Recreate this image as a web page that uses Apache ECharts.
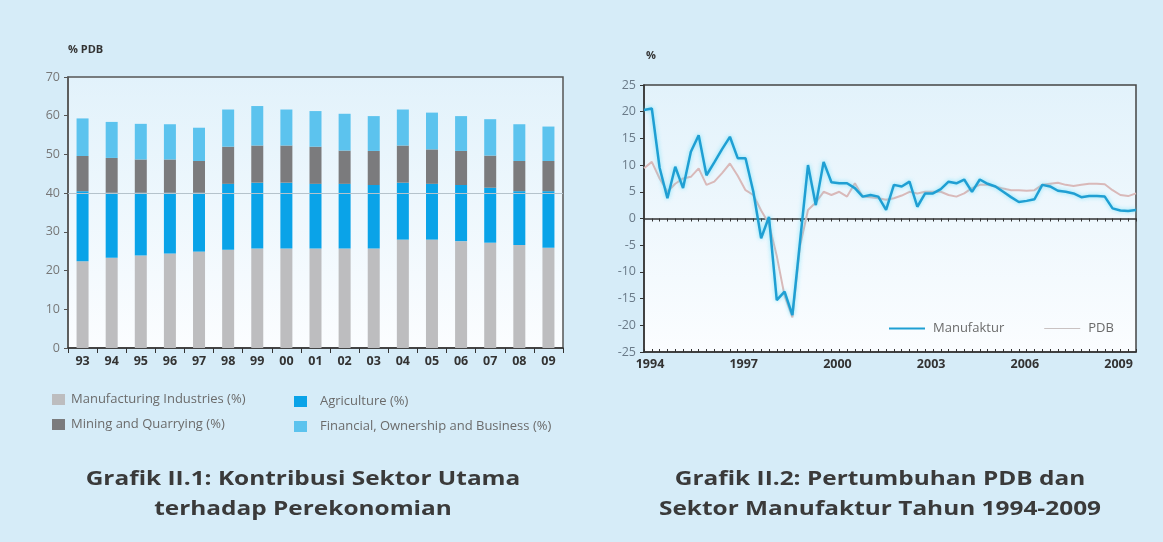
<!DOCTYPE html>
<html>
<head>
<meta charset="utf-8">
<script src="https://cdn.jsdelivr.net/npm/echarts@6/dist/echarts.min.js"></script>
<style>
  html, body { margin: 0; padding: 0; background: #d6ecf8; }
  #main { width: 1163px; height: 542px; }
</style>
</head>
<body>
<div id="main"></div>
<script>
// Grafik II.1 - stacked bars (% PDB)
let barYears = ['93', '94', '95', '96', '97', '98', '99', '00', '01', '02', '03', '04', '05', '06', '07', '08', '09']
let manufacturing = [22.4, 23.3, 23.9, 24.4, 24.9, 25.4, 25.7, 25.7, 25.7, 25.7, 25.7, 28.0, 28.0, 27.6, 27.2, 26.6, 25.9]
let agriculture = [18.1, 16.8, 16.2, 15.7, 15.2, 17.0, 17.0, 17.0, 16.7, 16.7, 16.4, 14.7, 14.4, 14.5, 14.2, 13.9, 14.6]
let mining = [9.1, 9.0, 8.6, 8.6, 8.2, 9.6, 9.6, 9.6, 9.6, 8.6, 8.8, 9.6, 8.9, 8.8, 8.3, 7.8, 7.8]
let financial = [9.7, 9.3, 9.2, 9.1, 8.6, 9.6, 10.2, 9.3, 9.2, 9.5, 9.0, 9.3, 9.5, 9.0, 9.4, 9.5, 8.9]

// Grafik II.2 - quarterly growth 1994Q1 - 2009Q4 (%)
let startYear = 1994
let endYear = 2009
let yearTicks = ['1994', '1997', '2000', '2003', '2006', '2009']
let manufaktur = [
  20.3, 20.6, 9.5, 3.8, 9.7, 5.7, 12.5, 15.6,
  8.1, 10.5, 13.0, 15.3, 11.3, 11.3, 5.0, -3.7,
  0.3, -15.3, -13.7, -18.1, -4.0, 10.0, 2.5, 10.6,
  6.8, 6.6, 6.6, 5.7, 4.1, 4.4, 4.1, 1.6,
  6.3, 6.0, 6.9, 2.2, 4.7, 4.7, 5.5, 6.9,
  6.6, 7.3, 5.0, 7.3, 6.5, 6.0, 5.0, 4.0,
  3.1, 3.3, 3.6, 6.3, 6.0, 5.2, 5.0, 4.7,
  4.0, 4.2, 4.2, 4.1, 1.9, 1.5, 1.4, 1.6
]
let pdb = [
  9.4, 10.6, 7.5, 5.0, 6.5, 7.5, 7.8, 9.4,
  6.3, 6.9, 8.5, 10.3, 8.0, 5.3, 4.4, 1.5,
  -1.0, -7.0, -14.5, -18.5, -5.0, 1.6, 3.0, 5.0,
  4.4, 5.0, 4.1, 6.6, 4.1, 4.0, 3.8, 3.5,
  3.8, 4.3, 5.0, 4.7, 5.0, 5.0, 5.0, 4.4,
  4.1, 4.7, 5.7, 6.3, 6.3, 6.0, 5.6, 5.3,
  5.3, 5.2, 5.3, 6.3, 6.5, 6.7, 6.3, 6.1,
  6.3, 6.5, 6.5, 6.4, 5.3, 4.4, 4.2, 4.7
]

let quarters = []
for (let y = startYear; y <= endYear; y++) {
  for (let q = 1; q <= 4; q++) quarters.push(y + 'Q' + q)
}

let plotBg = {
  type: 'linear', x: 0, y: 0, x2: 0, y2: 1,
  colorStops: [{ offset: 0, color: '#e2f2fb' }, { offset: 1, color: '#fbfdff' }]
}
let fontFamily = '"Open Sans", "Noto Sans", sans-serif'

let chart = echarts.init(document.getElementById('main'))

let barSeries = function (name, data, color) {
  return {
    name: name,
    type: 'bar',
    stack: 'total',
    xAxisIndex: 0,
    yAxisIndex: 0,
    barWidth: 12,
    itemStyle: { color: color },
    data: data
  }
}

let option = {
  backgroundColor: '#d6ecf8',
  textStyle: { fontFamily: fontFamily },
  animation: false,
  grid: [
    {
      left: 68, right: 600, top: 77, bottom: 194,
      show: true, backgroundColor: plotBg, borderColor: '#555', borderWidth: 1.5
    },
    {
      left: 644, right: 27, top: 85, bottom: 190,
      show: true, backgroundColor: plotBg, borderColor: '#444', borderWidth: 1.5
    }
  ],
  legend: [
    {
      orient: 'vertical', left: 47, top: 388, itemGap: 12,
      itemWidth: 13, itemHeight: 11, icon: 'rect',
      textStyle: { color: '#6b6b6b', fontSize: 13, padding: [0, 0, 0, 1] },
      data: ['Manufacturing Industries (%)', 'Mining and Quarrying (%)']
    },
    {
      orient: 'vertical', left: 289, top: 390, itemGap: 12,
      itemWidth: 13, itemHeight: 11, icon: 'rect',
      textStyle: { color: '#6b6b6b', fontSize: 13, padding: [0, 0, 0, 8] },
      data: ['Agriculture (%)', 'Financial, Ownership and Business (%)']
    },
    {
      orient: 'horizontal', left: 884, top: 317, itemGap: 40,
      itemWidth: 36, itemHeight: 10,
      textStyle: { color: '#6b6b6b', fontSize: 13, padding: [0, 0, 0, 3] },
      data: [
        { name: 'Manufaktur', icon: 'path://M0,4 L36,4 L36,6 L0,6 Z' },
        { name: 'PDB', icon: 'path://M0,4.5 L36,4.5 L36,5.5 L0,5.5 Z' }
      ]
    }
  ],
  xAxis: [
    {
      type: 'category', gridIndex: 0, data: barYears,
      axisLine: { lineStyle: { color: '#333', width: 1.5 } },
      axisTick: { show: true, length: 5, lineStyle: { color: '#333' } },
      axisLabel: { color: '#333', fontWeight: 'bold', fontSize: 12.5, margin: 7 }
    },
    {
      type: 'category', gridIndex: 1, data: quarters, boundaryGap: false,
      position: 'bottom',
      axisLine: { onZero: false, lineStyle: { color: '#333', width: 1.5 } },
      axisTick: { show: true, inside: true, length: 3, interval: 0, lineStyle: { color: '#333' } },
      axisLabel: {
        color: '#333', fontWeight: 'bold', fontSize: 12.5, margin: 6, padding: [0, 0, 0, 12],
        interval: function (idx, val) {
          return val.slice(-2) === 'Q1' && yearTicks.indexOf(val.slice(0, 4)) >= 0
        },
        formatter: function (val) { return val.slice(0, 4) }
      }
    },
    {
      type: 'category', gridIndex: 1, data: quarters, boundaryGap: false,
      position: 'bottom',
      axisLine: { onZero: true, onZeroAxisIndex: 1, lineStyle: { color: '#333', width: 1.5 } },
      axisTick: { show: true, length: 3, interval: 0, lineStyle: { color: '#333' } },
      axisLabel: { show: false }
    }
  ],
  yAxis: [
    {
      type: 'value', gridIndex: 0, min: 0, max: 70, interval: 10,
      axisLine: { show: true, lineStyle: { color: '#555', width: 1.5 } },
      axisTick: { show: true, length: 4, lineStyle: { color: '#555' } },
      axisLabel: { color: '#777', fontSize: 12.5, margin: 8 },
      splitLine: { show: false }
    },
    {
      type: 'value', gridIndex: 1, min: -25, max: 25, interval: 5,
      axisLine: { show: true, lineStyle: { color: '#333', width: 1.5 } },
      axisTick: { show: true, length: 4, lineStyle: { color: '#333' } },
      axisLabel: { color: '#6a7a88', fontSize: 12.5, margin: 8 },
      splitLine: { show: false }
    }
  ],
  series: [
    Object.assign(barSeries('Manufacturing Industries (%)', manufacturing, '#bdbdbf'), {
      markLine: {
        silent: true, symbol: 'none', label: { show: false },
        lineStyle: { color: '#b5c3cc', width: 1, type: 'solid' },
        data: [{ yAxis: 40 }]
      }
    }),
    barSeries('Agriculture (%)', agriculture, '#0aa3e8'),
    barSeries('Mining and Quarrying (%)', mining, '#7b7b7d'),
    barSeries('Financial, Ownership and Business (%)', financial, '#5cc3ee'),
    {
      name: 'PDB', type: 'line', xAxisIndex: 1, yAxisIndex: 1,
      data: pdb, showSymbol: false, symbol: 'none',
      lineStyle: { color: '#d9b9b9', width: 2 },
      itemStyle: { color: '#c9c2c2' },
      z: 2
    },
    {
      name: 'Manufaktur', type: 'line', xAxisIndex: 1, yAxisIndex: 1,
      data: manufaktur, showSymbol: false, symbol: 'none',
      lineStyle: { color: '#1f9fd3', width: 2.5, shadowColor: 'rgba(80,220,250,0.7)', shadowBlur: 4 },
      itemStyle: { color: '#1f9fd3' },
      z: 3
    }
  ],
  graphic: [
    {
      type: 'text', x: 68, y: 44,
      style: { text: '% PDB', fill: '#333', font: 'bold 11px ' + fontFamily }
    },
    {
      type: 'text', x: 646, y: 50,
      style: { text: '%', fill: '#333', font: 'bold 11px ' + fontFamily }
    },
    {
      type: 'text', x: 303, y: 464, scaleX: 1.22,
      style: {
        text: 'Grafik II.1: Kontribusi Sektor Utama\nterhadap Perekonomian',
        fill: '#3a3a3a', textAlign: 'center', lineHeight: 30,
        font: 'bold 20px ' + fontFamily
      }
    },
    {
      type: 'text', x: 880, y: 464, scaleX: 1.22,
      style: {
        text: 'Grafik II.2: Pertumbuhan PDB dan\nSektor Manufaktur Tahun 1994-2009',
        fill: '#3a3a3a', textAlign: 'center', lineHeight: 30,
        font: 'bold 20px ' + fontFamily
      }
    }
  ]
}

chart.setOption(option)
</script>
</body>
</html>
